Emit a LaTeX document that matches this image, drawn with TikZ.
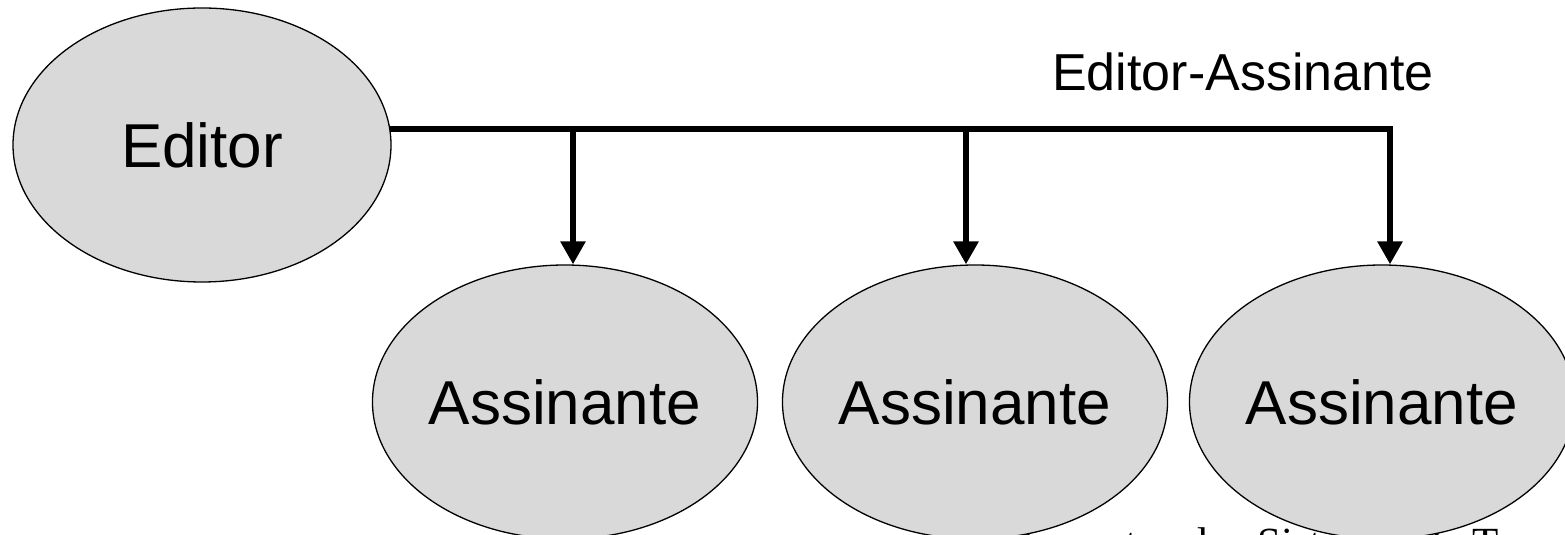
\documentclass[tikz,border=0pt]{standalone}
\usepackage{fontspec}
\setmainfont{Liberation Sans}
\newfontfamily\footserif{Liberation Serif}
\usetikzlibrary{arrows.meta,shapes.geometric}
\definecolor{ellfill}{HTML}{D9D9D9}
\tikzset{
  oval/.style={ellipse, draw=black, line width=1.3pt, fill=ellfill, inner sep=0pt,
    minimum width=378pt, minimum height=274pt, font=\fontsize{62}{70}\selectfont},
  bus/.style={line width=6.5pt, line join=miter},
  arr/.style={line width=6.5pt, -{Triangle[width=24pt,length=23pt]}},
}
\begin{document}
\begin{tikzpicture}[x=1pt,y=1pt]
\useasboundingbox (0,0) rectangle (1565,535);
\clip (0,0) rectangle (1565,535);
\fill[white] (0,0) rectangle (1565,535);
% footer (clipped)
\node[anchor=base west, inner sep=0pt, font=\footserif\fontsize{43}{48}\selectfont] (foot) at (944,-22.5) {Fundamentos dos Sistemas de Tempo Real};
\node[oval] (E) at (202,390) {Editor};
\node[oval] (A1) at (565,133) {Assinante};
\node[oval] (A2) at (975,133) {Assinante};
\node[oval] (A3) at (1382,133) {Assinante};
\node[font=\fontsize{52}{58}\selectfont, inner sep=0pt] (lbl) at (1243,463) {Editor-Assinante};
\coordinate (b1) at (573,406);
\coordinate (b2) at (966,406);
\coordinate (b3) at (1390,406);
\draw[bus] (E.5 |- b3) -- (b3) -- ([yshift=12pt]b3 |- A3.north);
\draw[arr] (b3) -- (b3 |- A3.north);
\draw[arr] (b1) -- (b1 |- A1.north);
\draw[arr] (b2) -- (b2 |- A2.north);
\end{tikzpicture}
\end{document}
